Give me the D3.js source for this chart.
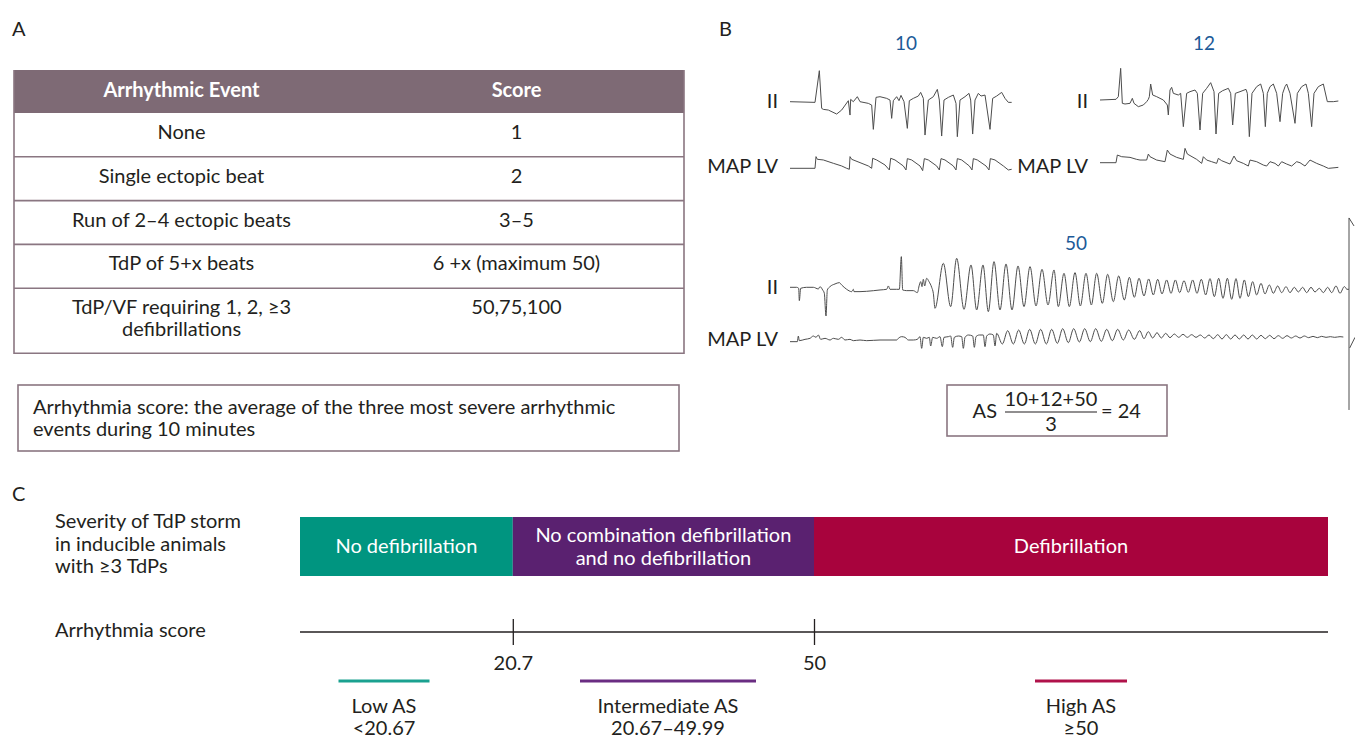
<!DOCTYPE html>
<html>
<head>
<meta charset="utf-8">
<script src="https://cdn.jsdelivr.net/npm/d3@7"></script>
<style>
  html, body { margin: 0; padding: 0; background: #fff; }
  svg text { font-family: Lato, "Open Sans", "DejaVu Sans", sans-serif; }
</style>
</head>
<body>
<svg id="fig" width="1355" height="740"></svg>
<script>
// ---------------- Panel A: scoring table ----------------
const tableHeaders = ["Arrhythmic Event", "Score"];
const eventNames = [
  ["None"],
  ["Single ectopic beat"],
  ["Run of 2–4 ectopic beats"],
  ["TdP of 5+x beats"],
  ["TdP/VF requiring 1, 2, ≥3", "defibrillations"]
];
const eventScores = ["1", "2", "3–5", "6 +x (maximum 50)", "50,75,100"];
const scoreDefinition = [
  "Arrhythmia score: the average of the three most severe arrhythmic",
  "events during 10 minutes"
];

// ---------------- Panel B: example recordings ----------------
// Each trace: [sample, amplitude] pairs, amplitude relative to the isoelectric line.
const lead2_10 = [[30,0],[105,-2],[118,93],[125,-20],[130,-23],[145,-25],[170,-37],[185,-25],[205,3],[210,-40],[212,7],[220,0],[232,15],[240,0],[265,-5],[275,-10],[280,-83],[288,13],[300,15],[320,10],[330,5],[335,-50],[340,3],[350,15],[357,3],[363,19],[372,0],[382,-80],[388,3],[400,10],[415,17],[422,28],[430,10],[435,-100],[445,5],[460,15],[472,37],[478,5],[485,-103],[492,5],[505,13],[520,20],[528,-5],[532,-105],[540,5],[555,15],[567,25],[572,5],[578,-97],[585,5],[595,25],[603,17],[615,20],[630,-83],[638,10],[650,17],[665,28],[675,10],[685,-2],[695,-2]];
const mapLV_10 = [[30,0],[105,0],[108,35],[112,27],[130,25],[160,15],[185,7],[200,0],[208,-3],[210,35],[215,27],[240,17],[265,7],[275,0],[278,30],[290,25],[315,10],[328,-5],[332,30],[345,25],[370,7],[378,-5],[382,29],[395,25],[420,7],[428,-7],[433,29],[445,25],[470,7],[478,-5],[483,29],[495,25],[520,7],[528,-5],[532,29],[545,25],[568,7],[576,-5],[580,29],[592,25],[618,7],[627,-5],[631,29],[645,25],[670,7],[685,-5],[695,-3]];

const lead2_12 = [[30,0],[78,2],[85,10],[92,95],[97,-10],[105,-12],[120,-10],[127,5],[132,-10],[145,-20],[160,-15],[170,-5],[175,2],[178,10],[182,48],[188,15],[200,10],[220,0],[232,-15],[235,-45],[240,30],[245,38],[250,20],[265,15],[272,20],[280,-80],[290,20],[300,25],[315,30],[322,20],[330,-90],[338,20],[350,35],[362,52],[372,25],[378,-102],[386,20],[398,28],[415,35],[422,20],[428,-75],[436,20],[450,25],[468,32],[472,20],[478,-110],[486,20],[500,40],[512,48],[520,20],[526,-80],[532,20],[540,40],[550,48],[560,20],[570,-65],[578,20],[585,40],[590,48],[600,20],[615,-70],[622,20],[635,40],[648,48],[655,20],[665,-80],[672,20],[685,40],[700,48],[712,-5],[730,-5],[745,-3]];
const mapLV_12 = [[30,0],[78,0],[82,23],[95,18],[120,16],[140,10],[150,8],[170,8],[175,26],[180,18],[200,8],[225,3],[232,38],[240,26],[260,16],[280,10],[285,43],[292,26],[320,10],[335,-2],[340,18],[350,8],[365,3],[380,-2],[385,13],[395,6],[420,-4],[432,20],[440,6],[460,-2],[475,-10],[480,8],[500,3],[520,-7],[530,-10],[540,3],[555,-2],[565,-10],[575,3],[590,-4],[605,-10],[620,3],[630,0],[645,-10],[660,8],[680,-2],[700,-10],[715,-17],[745,-14]];

const lead2_50 = [[30,0],[50,0],[56,-3],[58,-40],[62,-3],[80,0],[100,0],[115,-5],[120,2],[128,-8],[133,-18],[138,-86],[142,-8],[150,2],[165,10],[178,14],[185,7],[200,-6],[215,-13],[220,-6],[222,-13],[240,-13],[260,-12],[300,-8],[320,-6],[325,4],[330,-6],[350,-6],[358,-6],[364,92],[368,-8],[380,-10],[400,-10],[412,-16],[418,7],[422,17],[426,2],[430,24],[434,4],[440,27],[447,17],[455,0],[460,-18],
  [465,-63],[490,72],[512,-58],[530,87],[552,-66],[573,67],[590,-68],[609,67],[625,-73],[642,77],[660,-68],[678,70],[696,-68],[714,64],[732,-58],[750,62],[768,-56],[786,54],[804,-53],[822,52],
  [835,-58],[852,42],[868,-58],[885,44],[901,-56],[918,42],[934,-53],[950,42],[967,-48],[983,39],[1000,-43],[1016,34],[1033,-38],[1048,30],[1063,-30],[1077,27],[1092,-26],[1106,25],[1120,-23],[1133,24],[1146,-20],[1160,22],[1173,-18],[1186,22],[1199,-16],[1212,20],[1225,-15],[1238,22],[1251,-18],[1264,24],[1277,-23],[1290,26],[1303,-28],[1316,27],[1329,-33],[1342,27],[1355,-36],[1368,26],[1380,-33],[1393,22],[1405,-28],[1418,17],[1430,-23],[1443,12],[1455,-20],[1468,7],[1480,-18],[1493,4],[1505,-16],[1518,2],[1530,-16],[1543,0],[1555,-14],[1568,0],[1580,-16],[1593,0],[1605,-14],[1618,-3],[1630,-16],[1643,0],[1655,-16],[1668,4],[1680,-18],[1693,2],[1700,-6]];
const mapLV_50 = [[30,-5],[52,-5],[55,12],[58,-2],[75,2],[90,5],[100,12],[108,8],[115,15],[122,2],[135,5],[150,0],[160,5],[175,2],[185,8],[195,0],[210,2],[220,-2],[240,0],[260,-2],[300,0],[350,0],[355,5],[365,10],[375,8],[385,0],[400,0],[412,2],[420,10],[425,-25],[430,8],[440,5],[448,8],[452,-18],[458,8],[470,5],[480,10],[487,-20],[492,8],[505,10],[512,12],[518,-22],[523,8],[535,12],[545,10],[550,-25],[555,8],[565,15],[578,12],[583,-22],[588,10],[598,15],[610,15],[615,-20],[620,12],[630,18],[640,15],[645,-18],
  [650,20],[667,-12],[683,28],[700,-12],[716,30],[733,-12],[749,32],[766,-12],[782,32],[799,-12],[815,32],[832,-10],[848,34],[865,-8],[881,34],[898,-6],[914,34],[931,-5],[947,34],[964,-4],[980,32],[997,-2],[1013,32],[1030,0],[1046,30],[1063,2],[1079,28],[1092,4],[1105,25],[1118,6],[1131,22],[1144,6],[1157,20],[1170,7],[1183,18],[1196,8],[1209,17],[1222,8],[1235,16],[1248,8],[1261,15],[1274,6],[1287,15],[1300,4],[1313,16],[1326,3],[1339,16],[1352,3],[1365,15],[1378,3],[1391,15],[1404,3],[1417,15],[1430,3],[1443,14],[1456,4],[1469,14],[1482,4],[1495,13],[1508,5],[1521,13],[1534,6],[1547,12],[1560,6],[1573,12],[1586,7],[1599,11],[1612,7],[1625,11],[1638,8],[1651,10],[1664,8],[1680,10],[1690,9]];
// defibrillation artefact at the end of the third recording (lead II units / MAP units)
const shockLead2 = [[1700,-6],[1707,-6],[1707,208],[1722,184]];
const shockLead2Down = [[1707,-6],[1707,-368]];
const shockMap = [[1709,-24],[1725,8]];

const stripScores = ["10", "12", "50"];
const asTerms = "10+12+50";
const asDivisor = "3";
const asResult = "= 24";

// ---------------- Panel C: arrhythmia score thresholds ----------------
const severityLabels = [["No defibrillation"], ["No combination defibrillation", "and no defibrillation"], ["Defibrillation"]];
const severityBounds = [0, 20.7, 50, 100];
const severityColors = ["#009580", "#5a2170", "#a8033d"];
const scoreTicks = [20.7, 50];
const asGroupNames = ["Low AS", "Intermediate AS", "High AS"];
const asGroupRanges = ["<20.67", "20.67–49.99", "≥50"];
const asGroupColors = ["#1aa190", "#6a2d82", "#b0124a"];

// ---------------- drawing ----------------
const svg = d3.select("#fig");
const INK = "#231f20";
const FS = 20;

function label(g, x, y, s, o = {}) {
  return g.append("text")
    .attr("x", x).attr("y", y).text(s)
    .attr("font-size", o.size || FS)
    .attr("fill", o.fill || INK)
    .attr("font-weight", o.weight || 400)
    .attr("text-anchor", o.anchor || "start");
}

// Panel letters
label(svg, 12, 36, "A");
label(svg, 719, 36, "B");
label(svg, 12, 501, "C");

// ---- Table ----
const tbl = svg.append("g");
const tableLine = "#8a7681";
const col = d3.scaleBand().domain(tableHeaders).range([14, 684]);
const headTop = 70, headH = 43;
tbl.append("rect").attr("x", 14).attr("y", headTop).attr("width", 670).attr("height", headH).attr("fill", "#7e6a75");
tableHeaders.forEach(h => label(tbl, col(h) + col.bandwidth() / 2, 97, h, { anchor: "middle", fill: "#fff", weight: 700 }));

const rowH = lines => 43.8 + 21.2 * (lines - 1);
let yTop = headTop + headH;
const rowTops = eventNames.map(n => { const t = yTop; yTop += rowH(n.length); return t; });
const tableBottom = yTop;
eventNames.forEach((lines, i) => {
  const t = rowTops[i];
  lines.forEach((s, j) => label(tbl, col(tableHeaders[0]) + col.bandwidth() / 2, t + 26 + 22 * j, s, { anchor: "middle" }));
  label(tbl, col(tableHeaders[1]) + col.bandwidth() / 2, t + 26, eventScores[i], { anchor: "middle" });
  if (i > 0) tbl.append("line").attr("x1", 14).attr("x2", 684).attr("y1", t).attr("y2", t)
    .attr("stroke", tableLine).attr("stroke-width", 1.6);
});
tbl.append("path")
  .attr("d", `M14,${headTop}V${tableBottom}H684V${headTop}`)
  .attr("fill", "none").attr("stroke", tableLine).attr("stroke-width", 1.6);

// ---- Definition box ----
svg.append("rect").attr("x", 18).attr("y", 385).attr("width", 661).attr("height", 66)
  .attr("fill", "none").attr("stroke", tableLine).attr("stroke-width", 1.6);
scoreDefinition.forEach((s, i) => label(svg, 33, 414 + 22 * i, s));

// ---- Recordings ----
const traceInk = "#4d4d4d";
const UNIT = 1 / 3; // px per sample and per amplitude unit
function drawTrace(data, x0, base, curve) {
  const x = d3.scaleLinear().domain([0, 3]).range([x0, x0 + 3 * UNIT]);
  const y = d3.scaleLinear().domain([0, 3]).range([base, base - 3 * UNIT]);
  const line = d3.line().x(d => x(d[0])).y(d => y(d[1])).curve(curve || d3.curveLinear);
  svg.append("path").attr("d", line(data)).attr("fill", "none")
    .attr("stroke", traceInk).attr("stroke-width", 1).attr("stroke-linejoin", "round");
}
const strips = [
  { lead: lead2_10, map: mapLV_10, x0: 780, leadBase: 101.7, mapBase: 168.3, curve: d3.curveLinear },
  { lead: lead2_12, map: mapLV_12, x0: 1090, leadBase: 100, mapBase: 162.7, curve: d3.curveLinear },
  { lead: lead2_50, map: mapLV_50, x0: 780, leadBase: 287.3, mapBase: 340, curve: d3.curveMonotoneX }
];
strips.forEach(s => {
  drawTrace(s.lead, s.x0, s.leadBase, s.curve);
  drawTrace(s.map, s.x0, s.mapBase, s.curve);
});
drawTrace(shockLead2, 780, 287.3);
drawTrace(shockLead2Down, 780, 287.3);
drawTrace(shockMap, 780, 340);

// trace names and scores
const blue = "#1d5a98";
label(svg, 778, 108, "II", { anchor: "end" });
label(svg, 778, 173, "MAP LV", { anchor: "end" });
label(svg, 1088, 108, "II", { anchor: "end" });
label(svg, 1088, 173, "MAP LV", { anchor: "end" });
label(svg, 778, 294, "II", { anchor: "end" });
label(svg, 778, 346, "MAP LV", { anchor: "end" });
[[906, 50], [1204, 50], [1076, 250]].forEach((p, i) => label(svg, p[0], p[1], stripScores[i], { anchor: "middle", fill: blue, size: 19 }));

// AS formula box
svg.append("rect").attr("x", 947).attr("y", 385).attr("width", 220).attr("height", 51)
  .attr("fill", "none").attr("stroke", tableLine).attr("stroke-width", 1.6);
label(svg, 997, 418, "AS", { anchor: "end" });
label(svg, 1051, 406, asTerms, { anchor: "middle" });
svg.append("line").attr("x1", 1005).attr("x2", 1097).attr("y1", 412).attr("y2", 412).attr("stroke", INK).attr("stroke-width", 1.2);
label(svg, 1051, 431, asDivisor, { anchor: "middle" });
label(svg, 1101, 418, asResult);

// ---- Panel C ----
const xs = d3.scaleLinear().domain([0, 100]).range([300, 1328]);
label(svg, 55, 528, "Severity of TdP storm");
label(svg, 55, 551, "in inducible animals");
label(svg, 55, 573, "with ≥3 TdPs");
const barTop = 517, barH = 59;
severityLabels.forEach((lines, i) => {
  const a = xs(severityBounds[i]), b = xs(severityBounds[i + 1]);
  svg.append("rect").attr("x", a).attr("y", barTop).attr("width", b - a).attr("height", barH).attr("fill", severityColors[i]);
  const cy = barTop + barH / 2 + 6.5 - (lines.length - 1) * 11.5;
  lines.forEach((s, j) => label(svg, (a + b) / 2, cy + 23 * j, s, { anchor: "middle", fill: "#fff" }));
});

label(svg, 55, 637, "Arrhythmia score");
svg.append("line").attr("x1", xs(0)).attr("x2", xs(100)).attr("y1", 632).attr("y2", 632).attr("stroke", INK).attr("stroke-width", 1.3);
const axis = d3.axisBottom(xs).tickValues(scoreTicks).tickSize(26).tickPadding(11).tickFormat(d => String(d));
const axG = svg.append("g").attr("transform", "translate(0,619)").call(axis);
axG.select(".domain").remove();
axG.selectAll(".tick line").attr("stroke", INK).attr("stroke-width", 1.3);
axG.selectAll(".tick text").attr("font-size", FS).attr("fill", INK).attr("font-family", null);

// score group legend
const legendCenters = [384, 668, 1081];
const legendWidths = [91, 176, 92];
asGroupNames.forEach((n, i) => {
  const c = legendCenters[i], w = legendWidths[i];
  svg.append("line").attr("x1", c - w / 2).attr("x2", c + w / 2).attr("y1", 681).attr("y2", 681)
    .attr("stroke", asGroupColors[i]).attr("stroke-width", 3);
  label(svg, c, 713, n, { anchor: "middle" });
  label(svg, c, 735, asGroupRanges[i], { anchor: "middle" });
});
</script>
</body>
</html>
